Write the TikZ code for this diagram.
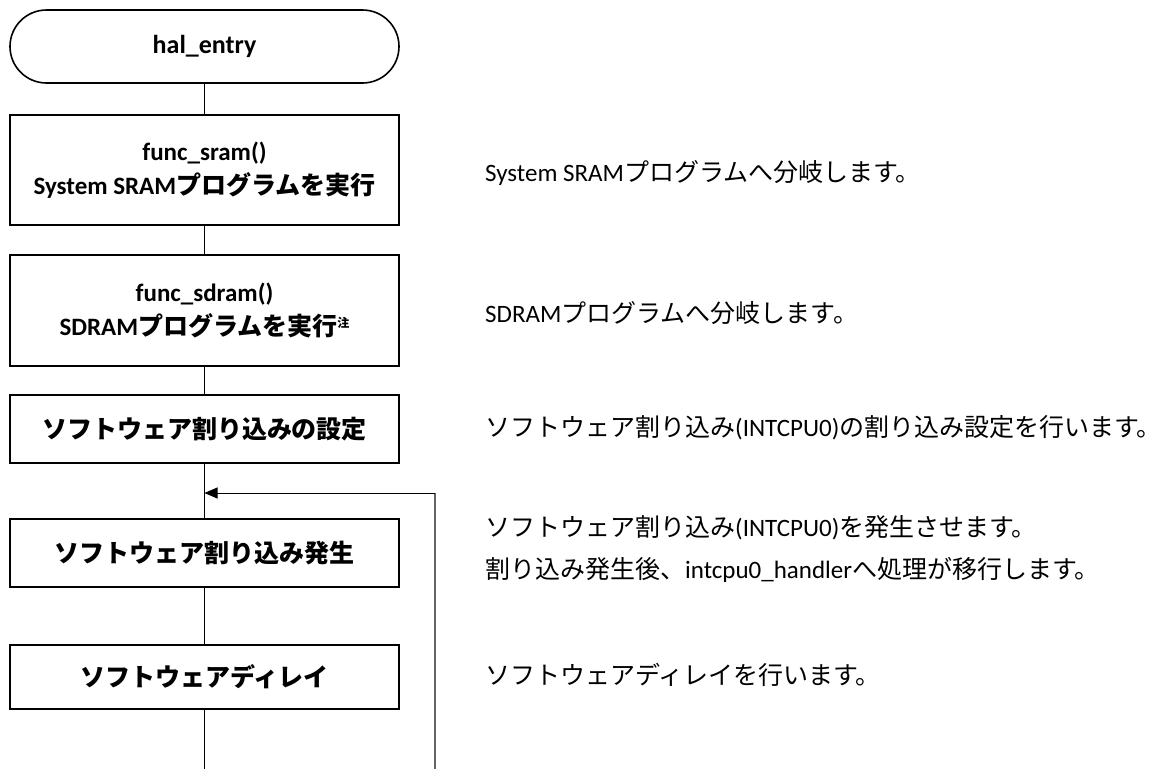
\documentclass[tikz,border=0pt]{standalone}
\usepackage{fontspec}
\setmainfont{Noto Sans CJK JP}
\newfontfamily\lat{Carlito}
\usetikzlibrary{arrows.meta}
\tikzset{
  box/.style={draw, line width=2.2pt, minimum width=389pt, align=center, inner sep=0pt,
    font=\bfseries\fontsize{25}{34}\selectfont},
  term/.style={box, rounded corners=36.5pt, line width=1.6pt},
  conn/.style={line width=0.9pt},
  loopline/.style={line width=1.4pt, draw=black!60},
  desc/.style={anchor=west, align=left, inner sep=0pt, font=\fontsize{25}{42}\selectfont}
}
\begin{document}
\begin{tikzpicture}[x=1pt,y=-1pt]
\useasboundingbox (0,0) rectangle (1160,769);
% boxes
\node[term, minimum height=73pt] (term) at (204.5,46.5) {\lat\fontsize{26}{30}\selectfont hal\_entry};
\node[box, minimum height=110pt] (b1) at (204.5,170) {{\lat\fontsize{25}{34}\selectfont func\_sram()}\\{\lat\fontsize{25}{34}\selectfont System SRAM}プログラムを実行};
\node[box, minimum height=111pt] (b2) at (204.5,310.5) {{\lat\fontsize{25}{34}\selectfont func\_sdram()}\\{\lat\fontsize{25}{34}\selectfont SDRAM}プログラムを実行\raisebox{8pt}{\fontsize{12}{12}\selectfont 注}};
\node[box, minimum height=68pt] (b3) at (204.5,429) {ソフトウェア割り込みの設定};
\node[box, minimum height=68pt] (b4) at (204.5,553) {ソフトウェア割り込み発生};
\node[box, minimum height=64pt] (b5) at (204.5,677) {ソフトウェアディレイ};
% coordinates
\coordinate (j) at (204.5,493);
\coordinate (bend) at (435,493);
\coordinate (lb) at (435,769);
\coordinate (end) at (204.5,769);
% connectors
\draw[conn] (term) -- (b1);
\draw[conn] (b1) -- (b2);
\draw[conn] (b2) -- (b3);
\draw[conn] (b3) -- (b4);
\draw[conn] (b4) -- (b5);
\draw[conn] (b5) -- (end);
\draw[loopline] (lb) -- (bend);
\draw[conn, -{Triangle[length=13pt,width=11pt]}] (bend) -- (j);
% descriptions
\node[desc] (t1) at (485,173) {{\lat\fontsize{25}{42}\selectfont System SRAM}プログラムへ分岐します。};
\node[desc] (t2) at (485,313) {{\lat\fontsize{25}{42}\selectfont SDRAM}プログラムへ分岐します。};
\node[desc] (t3) at (485,428) {ソフトウェア割り込み{\lat (INTCPU0)}の割り込み設定を行います。};
\node[desc] (t4) at (485,549) {ソフトウェア割り込み{\lat (INTCPU0)}を発生させます。\\割り込み発生後、{\lat intcpu0\_handler}へ処理が移行します。};
\node[desc] (t5) at (485,675) {ソフトウェアディレイを行います。};
\end{tikzpicture}
\end{document}
